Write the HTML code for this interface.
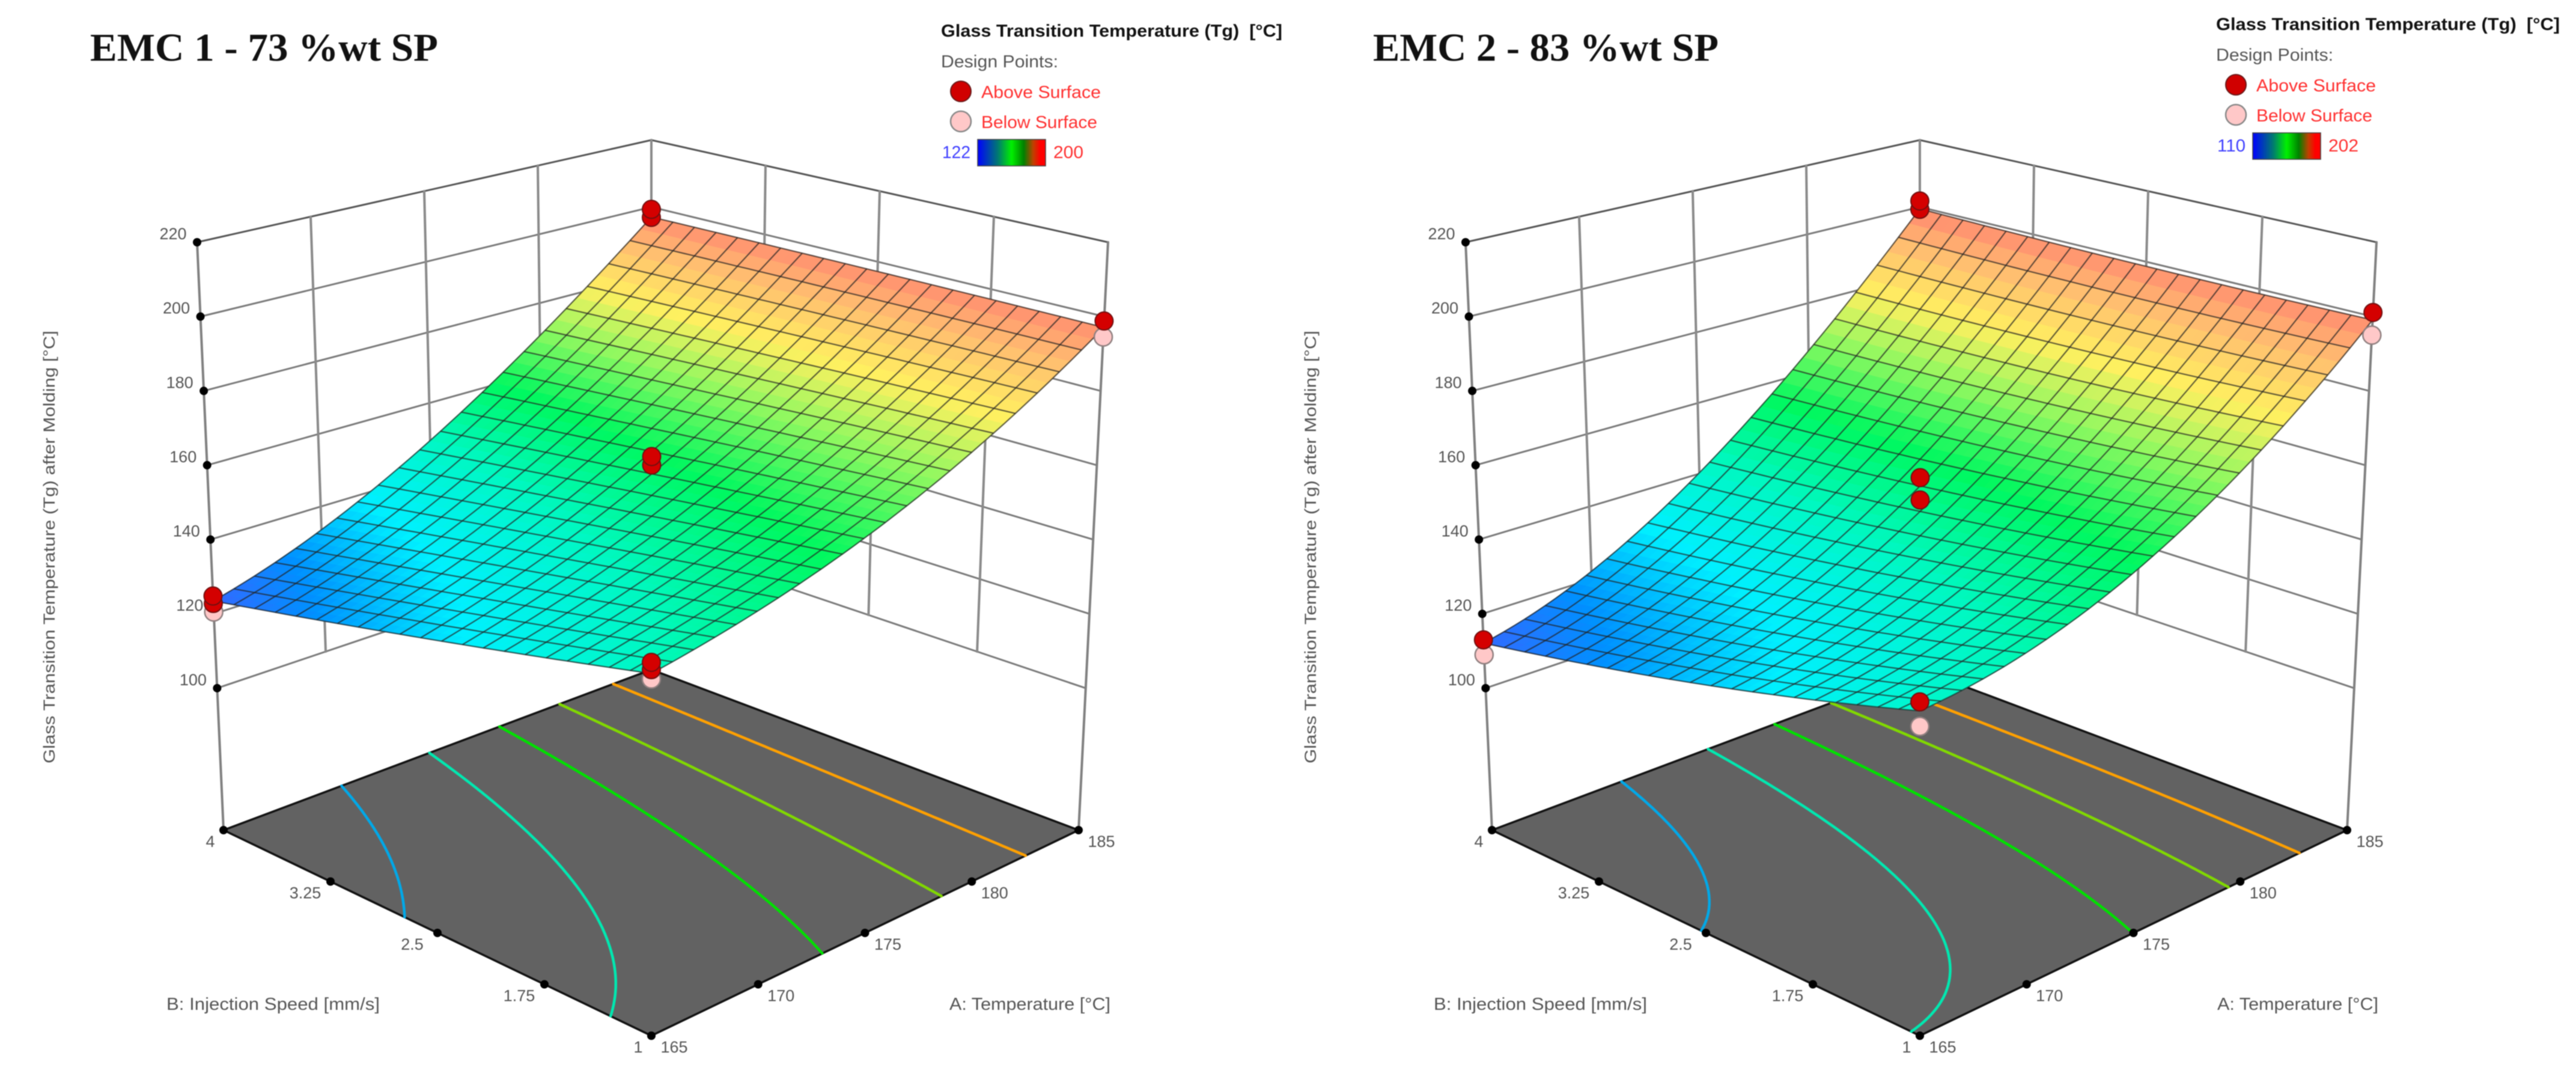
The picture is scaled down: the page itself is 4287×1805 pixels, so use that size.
<!DOCTYPE html>
<html lang="en">
<head>
<meta charset="utf-8">
<title>Glass Transition Temperature response surfaces</title>
<style>
html,body{margin:0;padding:0;background:#fff;}
svg{display:block;filter:blur(0.9px);}
text{font-family:"Liberation Sans",sans-serif;}
.gray{fill:#555;}
.title{font-family:"Liberation Serif",serif;font-weight:bold;font-size:66px;fill:#111;}
</style>
</head>
<body>
<svg id="figure" xmlns="http://www.w3.org/2000/svg" width="4287" height="1805" viewBox="0 0 4287 1805">
  <defs>
    <linearGradient id="legendRamp" x1="0" x2="1" y1="0" y2="0">
      <stop offset="0" stop-color="#0000ff"/>
      <stop offset="0.3" stop-color="#007a70"/>
      <stop offset="0.5" stop-color="#00f000"/>
      <stop offset="0.68" stop-color="#008000"/>
      <stop offset="0.82" stop-color="#c04000"/>
      <stop offset="0.92" stop-color="#ff0000"/>
      <stop offset="1" stop-color="#ff0000"/>
    </linearGradient>
  </defs>
  <rect width="4287" height="1805" fill="#fff"/>

  <g id="chart1"></g>
  <g id="chart2"></g>

  <text class="title" x="150" y="101" textLength="579" lengthAdjust="spacingAndGlyphs">EMC 1 - 73 %wt SP</text>
  <text class="title" x="2285" y="101" textLength="575" lengthAdjust="spacingAndGlyphs">EMC 2 - 83 %wt SP</text>

  <g>
    <text x="1566" y="61" font-size="29" font-weight="bold" fill="#111" textLength="568" lengthAdjust="spacingAndGlyphs">Glass Transition Temperature (Tg)&#160;&#160;[°C]</text>
    <text class="gray" x="1566" y="112" font-size="29" textLength="195" lengthAdjust="spacingAndGlyphs">Design Points:</text>
    <circle cx="1599" cy="152" r="17" fill="#d00000" stroke="#6a1a1a" stroke-width="2"/>
    <text x="1633" y="163" font-size="29" fill="#ff3030" textLength="199" lengthAdjust="spacingAndGlyphs">Above Surface</text>
    <circle cx="1599" cy="202" r="17" fill="#ffc8c8" stroke="#888" stroke-width="2.5"/>
    <text x="1633" y="213" font-size="29" fill="#ff3030" textLength="193" lengthAdjust="spacingAndGlyphs">Below Surface</text>
    <text x="1568" y="263" font-size="29" fill="#4040ff" textLength="47" lengthAdjust="spacingAndGlyphs">122</text>
    <rect x="1627" y="232" width="113" height="44" fill="url(#legendRamp)" stroke="#444" stroke-width="1.5"/>
    <text x="1753" y="263" font-size="29" fill="#ff3030" textLength="50" lengthAdjust="spacingAndGlyphs">200</text>
  </g>

  <g transform="translate(2122,-11)">
    <text x="1566" y="61" font-size="29" font-weight="bold" fill="#111" textLength="572" lengthAdjust="spacingAndGlyphs">Glass Transition Temperature (Tg)&#160;&#160;[°C]</text>
    <text class="gray" x="1566" y="112" font-size="29" textLength="195" lengthAdjust="spacingAndGlyphs">Design Points:</text>
    <circle cx="1599" cy="152" r="17" fill="#d00000" stroke="#6a1a1a" stroke-width="2"/>
    <text x="1633" y="163" font-size="29" fill="#ff3030" textLength="199" lengthAdjust="spacingAndGlyphs">Above Surface</text>
    <circle cx="1599" cy="202" r="17" fill="#ffc8c8" stroke="#888" stroke-width="2.5"/>
    <text x="1633" y="213" font-size="29" fill="#ff3030" textLength="193" lengthAdjust="spacingAndGlyphs">Below Surface</text>
    <text x="1568" y="263" font-size="29" fill="#4040ff" textLength="47" lengthAdjust="spacingAndGlyphs">110</text>
    <rect x="1627" y="232" width="113" height="44" fill="url(#legendRamp)" stroke="#444" stroke-width="1.5"/>
    <text x="1753" y="263" font-size="29" fill="#ff3030" textLength="50" lengthAdjust="spacingAndGlyphs">202</text>
  </g>
</svg>

<script>
// ---- data ----
const tempTicks = [165, 170, 175, 180, 185];
const speedTicks = [1, 1.75, 2.5, 3.25, 4];
const zTicks = [100, 120, 140, 160, 180, 200, 220];

// Tg at each temperature tick (rows) and speed tick (columns)
const emc1Tg = [
  [150.5, 144, 137, 130, 123.5],
  [156, 151, 146, 140, 134],
  [165, 162, 157, 153, 149],
  [178, 177, 175, 173, 171],
  [197, 197.5, 197, 197, 197]
];
const emc2Tg = [
  [141.5, 133, 126, 119, 112],
  [146, 138, 132, 127, 122],
  [156, 152, 149, 145, 140],
  [174, 170, 168, 167, 166],
  [199, 199, 199, 199, 199.5]
];

// design points: temperature, speed, Tg
const emc1Above = [[165, 4, 122.8], [165, 4, 124.8], [185, 4, 196.9], [185, 4, 199.3], [175, 2.5, 163.1], [175, 2.5, 165.4], [185, 1, 198.8], [165, 1, 151.5], [165, 1, 153.3]];
const emc1Below = [[165, 4, 120.5], [185, 1, 194.5], [165, 1, 149.2]];
const emc2Above = [[165, 4, 113], [185, 4, 199.3], [185, 4, 201.8], [175, 2.5, 153.7], [175, 2.5, 159.7], [185, 1, 201.1], [165, 1, 143.6]];
const emc2Below = [[165, 4, 109], [185, 1, 195], [165, 1, 137.6]];

const emc1Levels = [135, 148, 161, 174, 187];
const emc2Levels = [125.3, 140.7, 156, 171.3, 186.7];
const emc1Range = [122, 200];
const emc2Range = [110, 202];

// ---- drawing ----
const NS = 'http://www.w3.org/2000/svg';
const contourColors = ['#00a8e8', '#00e8b0', '#00e000', '#80d800', '#ffa000'];
const rampStops = [[0, [64, 96, 255]], [0.1, [0, 144, 255]], [0.22, [0, 240, 255]], [0.36, [0, 248, 192]], [0.5, [0, 248, 96]], [0.64, [144, 248, 96]], [0.76, [255, 240, 96]], [0.88, [255, 190, 112]], [1, [255, 122, 112]]];
const zFloor = 61.8;
const zTop = 220;
const frame = {
  front: [[1084, 1723], [1084, 649]],
  right: [[1795, 1381], [1844, 403]],
  left: [[372, 1381], [328, 403]],
  back: [[1084, 1114], [1084, 233]]
};
const meshCells = 21;
const meshSub = 2;

function lerp(a, b, t) { return a + (b - a) * t; }

function rampColor(t) {
  t = Math.max(0, Math.min(1, t));
  for (let i = 1; i < rampStops.length; i++) {
    if (t <= rampStops[i][0]) {
      const a = rampStops[i - 1], b = rampStops[i];
      const k = (t - a[0]) / (b[0] - a[0]);
      return 'rgb(' + a[1].map((c, j) => Math.round(lerp(c, b[1][j], k))).join(',') + ')';
    }
  }
  return 'rgb(255,122,112)';
}

// discrete orthogonal polynomials on the five tick levels, used for a smooth response-surface fit
const polyNorm = [5, 10, 14, 10];
function polyBasis(x) { return [1, x, x * x - 2, (5 * x * x * x - 17 * x) / 6]; }

function fitTable(table) {
  const coef = [];
  for (let i = 0; i < 4; i++) {
    coef.push([]);
    for (let j = 0; j < 3; j++) {
      let sum = 0;
      for (let a = 0; a < 5; a++) {
        const pa = polyBasis(a - 2)[i];
        for (let b = 0; b < 5; b++) {
          sum += table[a][b] * pa * polyBasis(b - 2)[j];
        }
      }
      coef[i].push(sum / (polyNorm[i] * polyNorm[j]));
    }
  }
  return coef;
}

function drawChart(rootId, dx, table, above, below, levels, range, prefix) {
  const root = document.getElementById(rootId);
  const coef = fitTable(table);
  const uOf = a => (a - tempTicks[0]) / (tempTicks[tempTicks.length - 1] - tempTicks[0]);
  const vOf = b => (b - speedTicks[0]) / (speedTicks[speedTicks.length - 1] - speedTicks[0]);
  const tOf = z => (z - zFloor) / (zTop - zFloor);

  function project(u, v, z) {
    const t = tOf(z);
    const out = [];
    for (let k = 0; k < 2; k++) {
      const lo = lerp(lerp(frame.front[0][k], frame.right[0][k], u), lerp(frame.left[0][k], frame.back[0][k], u), v);
      const hi = lerp(lerp(frame.front[1][k], frame.right[1][k], u), lerp(frame.left[1][k], frame.back[1][k], u), v);
      out.push(lerp(lo, hi, t));
    }
    out[0] += dx;
    return out;
  }
  function tg(u, v) {
    const pu = polyBasis(4 * u - 2), pv = polyBasis(4 * v - 2);
    let sum = 0;
    for (let i = 0; i < 4; i++) for (let j = 0; j < 3; j++) sum += coef[i][j] * pu[i] * pv[j];
    return sum;
  }
  function add(tag, parent, attrs) {
    const el = document.createElementNS(NS, tag);
    for (const key in attrs) el.setAttribute(key, attrs[key]);
    parent.appendChild(el);
    return el;
  }
  function group(name) {
    const g = document.createElementNS(NS, 'g');
    
    
    root.appendChild(g);
    return g;
  }
  function segment(parent, a, b, color, width) {
    const el = add('line', parent, { x1: a[0], y1: a[1], x2: b[0], y2: b[1], stroke: color, 'stroke-width': width, 'stroke-linecap': 'round' });
    return el;
  }
  function label(parent, x, y, str, anchor) {
    const el = add('text', parent, { x: x, y: y + 10, 'font-size': 27, fill: '#555', 'text-anchor': anchor || 'middle' });
    el.textContent = str;
    return el;
  }

  // walls
  const walls = group(prefix + '-walls');
  const zLow = zTicks[0], zHigh = zTicks[zTicks.length - 1];
  zTicks.forEach(z => {
    const top = z === zHigh;
    const l1 = segment(walls, project(0, 1, z), project(1, 1, z), top ? '#555' : '#7a7a7a', 3);
    
    
    const l2 = segment(walls, project(1, 1, z), project(1, 0, z), top ? '#555' : '#7a7a7a', 3);
    
    
  });
  tempTicks.slice(1, -1).forEach(a => {
    const el = segment(walls, project(uOf(a), 1, zLow), project(uOf(a), 1, zHigh), '#8a8a8a', 4);
    
    
  });
  speedTicks.slice(1, -1).forEach(b => {
    const el = segment(walls, project(1, vOf(b), zLow), project(1, vOf(b), zHigh), '#8a8a8a', 4);
    
    
  });
  const backEdge = segment(walls, project(1, 1, zLow), project(1, 1, zHigh), '#8a8a8a', 4);
  
  
  const leftEdge = segment(walls, project(0, 1, zFloor), project(0, 1, zHigh), '#808080', 4);
  
  
  const rightEdge = segment(walls, project(1, 0, zFloor), project(1, 0, zHigh), '#808080', 4);
  
  

  // floor
  const floor = group(prefix + '-floor');
  const corners = [project(0, 1, zFloor), project(0, 0, zFloor), project(1, 0, zFloor), project(1, 1, zFloor)];
  const plate = add('polygon', floor, { points: corners.map(p => p.join(',')).join(' '), fill: '#626262', stroke: '#111', 'stroke-width': 3.5, 'stroke-linejoin': 'round' });
  
  

  const contourGroup = group(prefix + '-contours');
  const M = 90;
  levels.forEach((lev, idx) => {
    let d = '';
    const cross = (u1, v1, f1, u2, v2, f2) => {
      const t = (lev - f1) / (f2 - f1);
      return project(lerp(u1, u2, t), lerp(v1, v2, t), zFloor);
    };
    for (let i = 0; i < M; i++) {
      for (let j = 0; j < M; j++) {
        const u0 = i / M, u1 = (i + 1) / M, v0 = j / M, v1 = (j + 1) / M;
        const f00 = tg(u0, v0), f10 = tg(u1, v0), f11 = tg(u1, v1), f01 = tg(u0, v1);
        const pts = [];
        if ((f00 < lev) !== (f10 < lev)) pts.push(cross(u0, v0, f00, u1, v0, f10));
        if ((f10 < lev) !== (f11 < lev)) pts.push(cross(u1, v0, f10, u1, v1, f11));
        if ((f11 < lev) !== (f01 < lev)) pts.push(cross(u1, v1, f11, u0, v1, f01));
        if ((f01 < lev) !== (f00 < lev)) pts.push(cross(u0, v1, f01, u0, v0, f00));
        for (let k = 0; k + 1 < pts.length; k += 2) {
          d += 'M' + pts[k][0].toFixed(1) + ' ' + pts[k][1].toFixed(1) + 'L' + pts[k + 1][0].toFixed(1) + ' ' + pts[k + 1][1].toFixed(1);
        }
      }
    }
    const path = add('path', contourGroup, { d: d, fill: 'none', stroke: contourColors[idx], 'stroke-width': 4.5, 'stroke-linecap': 'round' });
    
    
  });

  // floor ticks
  const ticks = group(prefix + '-floor-ticks');
  speedTicks.forEach(b => {
    const p = project(0, vOf(b), zFloor);
    const dot = add('circle', ticks, { cx: p[0], cy: p[1], r: 7, fill: '#000' });
    
    
    const end = b === speedTicks[speedTicks.length - 1];
    const txt = label(ticks, p[0] - (end ? 22 : (b === speedTicks[0] ? 22 : 42)), p[1] + 18, String(b));
    
    
  });
  tempTicks.forEach(a => {
    const p = project(uOf(a), 0, zFloor);
    const dot = add('circle', ticks, { cx: p[0], cy: p[1], r: 7, fill: '#000' });
    
    
    const txt = label(ticks, p[0] + 38, p[1] + 18, String(a));
    
    
  });
  zTicks.forEach(z => {
    const p = project(0, 1, z);
    const dot = add('circle', ticks, { cx: p[0], cy: p[1], r: 7, fill: '#000' });
    
    
    const txt = label(ticks, p[0] - 40, p[1] - 15, String(z));
    
    
  });

  // surface shading
  const surface = group(prefix + '-surface');
  const steps = meshCells * meshSub;
  for (let i = 0; i < steps; i++) {
    for (let j = 0; j < steps; j++) {
      const u0 = i / steps, u1 = (i + 1) / steps, v0 = j / steps, v1 = (j + 1) / steps;
      const quad = [[u0, v0], [u1, v0], [u1, v1], [u0, v1]].map(q => project(q[0], q[1], tg(q[0], q[1])));
      const val = tg((u0 + u1) / 2, (v0 + v1) / 2);
      const col = rampColor((val - range[0]) / (range[1] - range[0]));
      const poly = add('polygon', surface, { points: quad.map(p => p[0].toFixed(1) + ',' + p[1].toFixed(1)).join(' '), fill: col, stroke: col, 'stroke-width': 1 });
      
      
    }
  }
  // surface wire mesh
  const mesh = group(prefix + '-surface-mesh');
  for (let i = 0; i <= meshCells; i++) {
    const ptsA = [], ptsB = [];
    for (let j = 0; j <= meshCells * 2; j++) {
      const s = j / (meshCells * 2), r = i / meshCells;
      ptsA.push(project(r, s, tg(r, s)).map(n => n.toFixed(1)).join(','));
      ptsB.push(project(s, r, tg(s, r)).map(n => n.toFixed(1)).join(','));
    }
    const la = add('polyline', mesh, { points: ptsA.join(' '), fill: 'none', stroke: '#222', 'stroke-opacity': 0.7, 'stroke-width': 2.2 });
    
    
    const lb = add('polyline', mesh, { points: ptsB.join(' '), fill: 'none', stroke: '#222', 'stroke-opacity': 0.7, 'stroke-width': 2.2 });
    
    
  }

  // design points
  const points = group(prefix + '-design-points');
  below.forEach(d => {
    const p = project(uOf(d[0]), vOf(d[1]), d[2]);
    const c = add('circle', points, { cx: p[0], cy: p[1], r: 15, fill: '#ffc8c8', stroke: '#908080', 'stroke-width': 2.5 });
    
    
  });
  above.forEach(d => {
    const p = project(uOf(d[0]), vOf(d[1]), d[2]);
    const c = add('circle', points, { cx: p[0], cy: p[1], r: 15, fill: '#d40000', stroke: '#701010', 'stroke-width': 2 });
    
    
  });

  // axis titles
  const titles = group(prefix + '-axis-titles');
  const yx = dx === 0 ? 91 : 2190;
  const yt = add('text', titles, { x: yx, y: 910, 'font-size': 27, fill: '#555', 'text-anchor': 'middle', textLength: 720, lengthAdjust: 'spacingAndGlyphs', transform: 'rotate(-90 ' + yx + ' 910)' });
  yt.textContent = 'Glass Transition Temperature (Tg) after Molding [°C]';
  
  
  const bt = add('text', titles, { x: 277 + (dx === 0 ? 0 : 2109), y: 1680, 'font-size': 29, fill: '#555', textLength: 355, lengthAdjust: 'spacingAndGlyphs' });
  bt.textContent = 'B: Injection Speed [mm/s]';
  
  
  const at = add('text', titles, { x: 1580 + (dx === 0 ? 0 : 2110), y: 1680, 'font-size': 29, fill: '#555', textLength: 268, lengthAdjust: 'spacingAndGlyphs' });
  at.textContent = 'A: Temperature [°C]';
  
  
}

drawChart('chart1', 0, emc1Tg, emc1Above, emc1Below, emc1Levels, emc1Range, 'emc1');
drawChart('chart2', 2111, emc2Tg, emc2Above, emc2Below, emc2Levels, emc2Range, 'emc2');
</script>
</body>
</html>
